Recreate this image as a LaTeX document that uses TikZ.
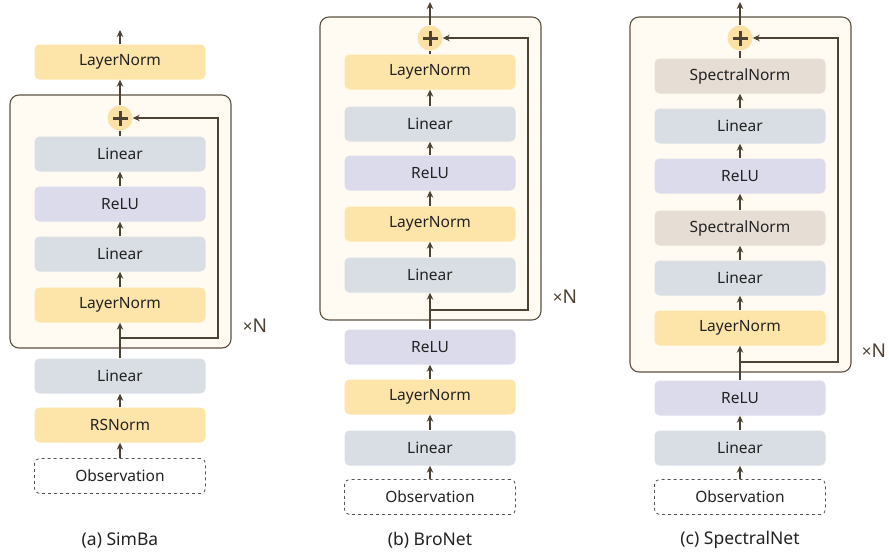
\documentclass[tikz,border=0pt]{standalone}
\usepackage{fontspec}
\setmainfont{Noto Sans}
\usetikzlibrary{arrows.meta}
\definecolor{lnc}{HTML}{FDE4A9}
\definecolor{linc}{HTML}{D8DEE4}
\definecolor{reluc}{HTML}{DBDBEC}
\definecolor{snc}{HTML}{E6DDD4}
\definecolor{frf}{HTML}{FFFBF3}
\definecolor{frc}{HTML}{5B5142}
\definecolor{arc}{HTML}{4B4233}
\definecolor{plc}{HTML}{FBE1A3}
\definecolor{txc}{HTML}{222222}
\definecolor{obsd}{HTML}{555555}
\tikzset{
 blk/.style={rectangle, rounded corners=5pt, minimum width=171pt, minimum height=35pt, inner sep=0pt, font=\fontsize{15.5}{17}\selectfont, text=txc},
 lnb/.style={blk, fill=lnc},
 linb/.style={blk, fill=linc},
 relub/.style={blk, fill=reluc},
 snb/.style={blk, fill=snc},
 obsb/.style={blk, draw=obsd, dashed, line width=0.8pt, fill=white},
 framebox/.style={draw=frc, fill=frf, rounded corners=9pt, line width=1.1pt},
 arr/.style={draw=arc, line width=1.1pt, -{Stealth[length=7pt,width=6.5pt]}},
 ln0/.style={draw=arc, line width=1.1pt},
 plusb/.style={circle, fill=plc, minimum size=25pt, inner sep=0pt},
 timesn/.style={font=\fontsize{19}{20}\selectfont, text=arc, inner sep=0pt},
 capt/.style={font=\fontsize{17.5}{19}\selectfont, text=txc, inner sep=0pt}
}
\newcommand{\plussign}[1]{\draw[arc, line width=3pt] ([xshift=-7.5pt]#1.center) -- ([xshift=7.5pt]#1.center); \draw[arc, line width=3pt] ([yshift=-7.5pt]#1.center) -- ([yshift=7.5pt]#1.center);}
\newcommand{\timesN}{{\fontsize{17}{18}\selectfont ×}N}
\begin{document}
\begin{tikzpicture}[x=1pt,y=-1pt]
\useasboundingbox (0,0) rectangle (889,554);
% ---------------- SimBa
\draw[framebox] (10,95) rectangle (231,348);
\node[lnb] (a9) at (120,62) {LayerNorm};
\node[plusb] (ap) at (120,118) {};
\plussign{ap}
\node[linb] (a8) at (120,154) {Linear};
\node[relub] (a7) at (120,204) {ReLU};
\node[linb] (a6) at (120,254) {Linear};
\node[lnb] (a5) at (120,305) {LayerNorm};
\node[linb] (a3) at (120,376) {Linear};
\node[lnb] (a2) at (120,425) {RSNorm};
\node[obsb] (a1) at (120,476) {Observation};
\coordinate (atop) at (120,30);
\coordinate (abr) at (120,338);
\coordinate (ask) at (218,118);
\draw[arr] (a1) -- (a2);
\draw[arr] (a2) -- (a3);
\draw[arr] (a3) -- (a5);
\draw[arr] (a5) -- (a6);
\draw[arr] (a6) -- (a7);
\draw[arr] (a7) -- (a8);
\draw[ln0] (a8) -- (ap);
\draw[arr] (ap) -- (a9);
\draw[arr] (a9) -- (atop);
\draw[arr] (abr) -| (ask) -- (ap);
\node[timesn] (an) at (255,326) {\timesN};
\node[capt] (acap) at (120,540) {(a) SimBa};
% ---------------- BroNet
\draw[framebox] (320,17) rectangle (541,320);
\node[plusb] (bp) at (430,38) {};
\plussign{bp}
\node[lnb] (b9) at (430,72) {LayerNorm};
\node[linb] (b8) at (430,124) {Linear};
\node[relub] (b7) at (430,173) {ReLU};
\node[lnb] (b6) at (430,224) {LayerNorm};
\node[linb] (b5) at (430,275) {Linear};
\node[relub] (b4) at (430,347) {ReLU};
\node[lnb] (b3) at (430,397) {LayerNorm};
\node[linb] (b2) at (430,448) {Linear};
\node[obsb] (b1) at (430,497) {Observation};
\coordinate (btop) at (430,2);
\coordinate (bbr) at (430,310);
\coordinate (bsk) at (528,38);
\draw[arr] (b1) -- (b2);
\draw[arr] (b2) -- (b3);
\draw[arr] (b3) -- (b4);
\draw[arr] (b4) -- (b5);
\draw[arr] (b5) -- (b6);
\draw[arr] (b6) -- (b7);
\draw[arr] (b7) -- (b8);
\draw[arr] (b8) -- (b9);
\draw[ln0] (b9) -- (bp);
\draw[arr] (bp) -- (btop);
\draw[arr] (bbr) -| (bsk) -- (bp);
\node[timesn] (bn) at (565,297) {\timesN};
\node[capt] (bcap) at (430,540) {(b) BroNet};
% ---------------- SpectralNet
\draw[framebox] (630,17) rectangle (851,372);
\node[plusb] (cp) at (740,38) {};
\plussign{cp}
\node[snb] (c9) at (740,76) {SpectralNorm};
\node[linb] (c8) at (740,126) {Linear};
\node[relub] (c7) at (740,176) {ReLU};
\node[snb] (c6) at (740,228) {SpectralNorm};
\node[linb] (c5) at (740,278) {Linear};
\node[lnb] (c4) at (740,328) {LayerNorm};
\node[relub] (c3) at (740,398) {ReLU};
\node[linb] (c2) at (740,448) {Linear};
\node[obsb] (c1) at (740,497) {Observation};
\coordinate (ctop) at (740,2);
\coordinate (cbr) at (740,362);
\coordinate (csk) at (838,38);
\draw[arr] (c1) -- (c2);
\draw[arr] (c2) -- (c3);
\draw[arr] (c3) -- (c4);
\draw[arr] (c4) -- (c5);
\draw[arr] (c5) -- (c6);
\draw[arr] (c6) -- (c7);
\draw[arr] (c7) -- (c8);
\draw[arr] (c8) -- (c9);
\draw[ln0] (c9) -- (cp);
\draw[arr] (cp) -- (ctop);
\draw[arr] (cbr) -| (csk) -- (cp);
\node[timesn] (cn) at (874,351) {\timesN};
\node[capt] (ccap) at (740,540) {(c) SpectralNet};
\end{tikzpicture}
\end{document}
